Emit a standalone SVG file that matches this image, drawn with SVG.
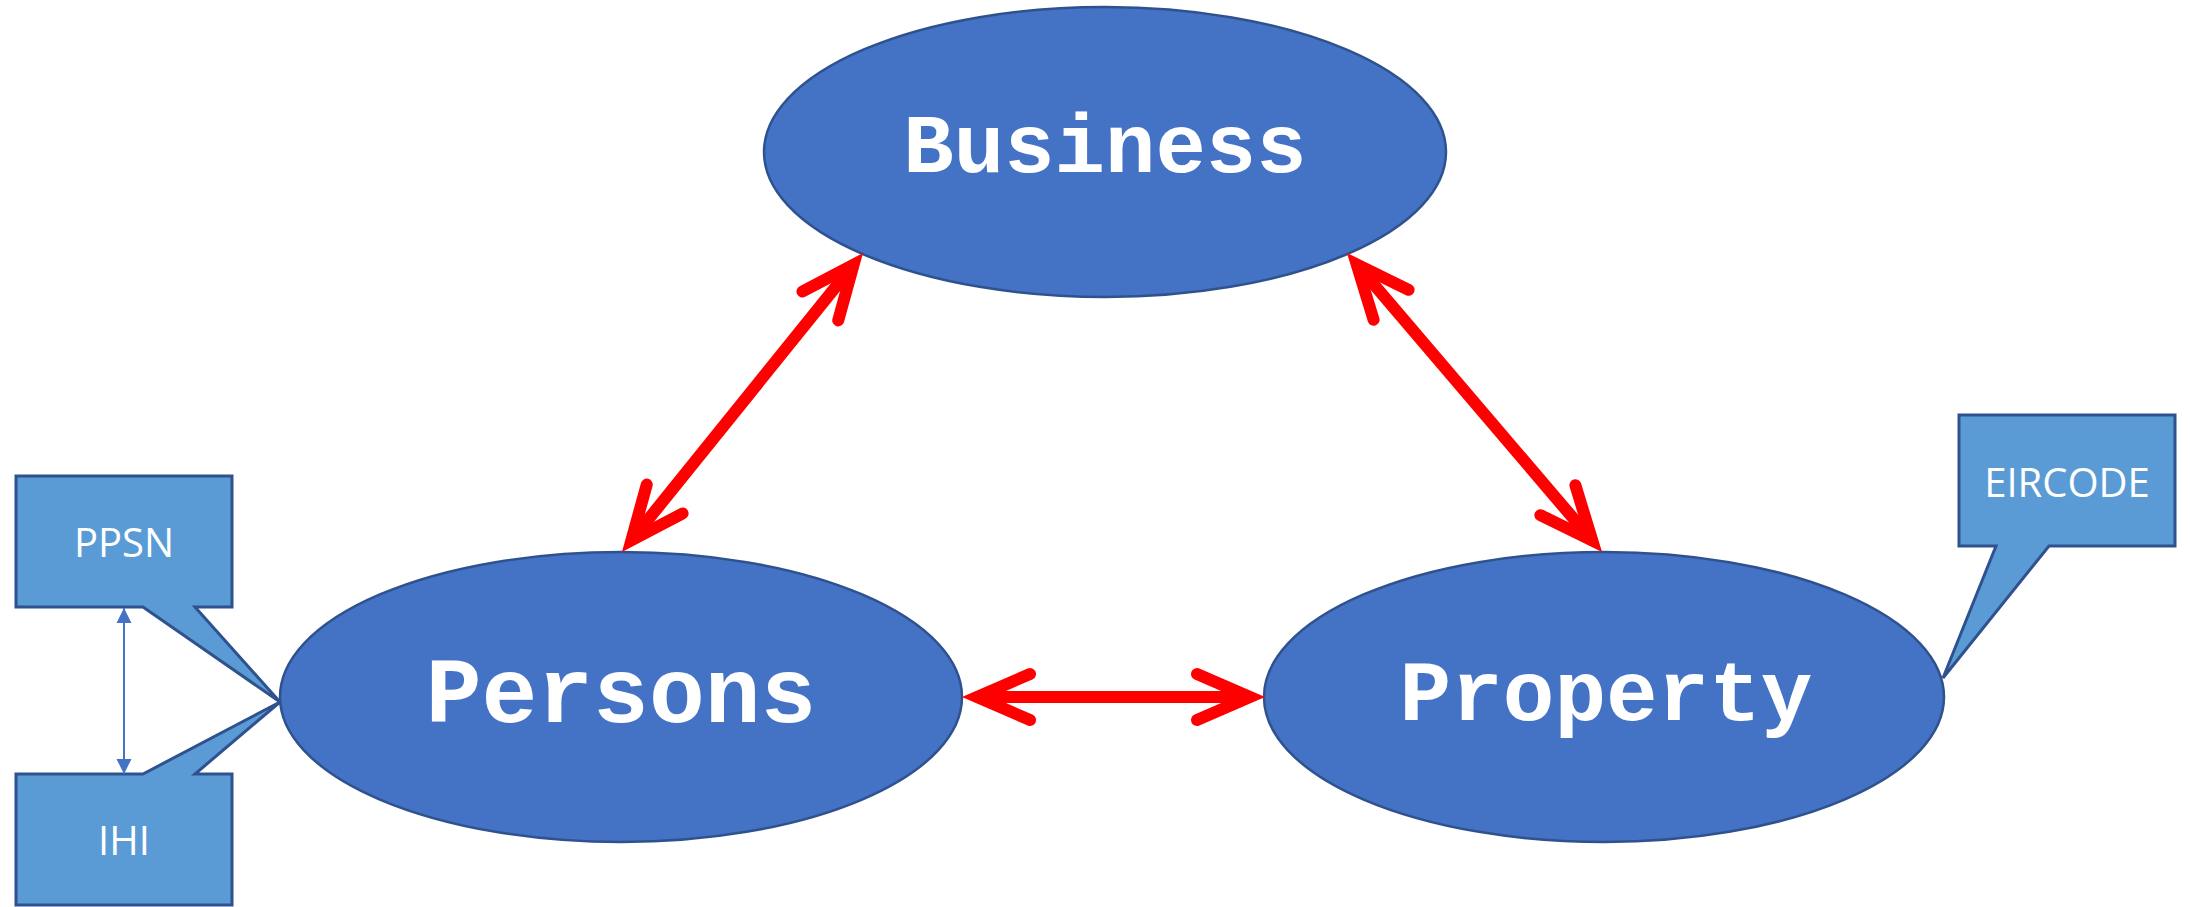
<svg xmlns="http://www.w3.org/2000/svg" width="2190" height="907" viewBox="0 0 2190 907">
<style>
.ell{fill:#4472C4;stroke:#2F528F;stroke-width:2.5}
.call{fill:#5B9BD5;stroke:#2F528F;stroke-width:3;stroke-linejoin:miter}
.big{font-family:"Liberation Mono","Courier New",monospace;font-weight:bold;fill:#FFFFFF;text-anchor:middle}
.small{font-family:"Open Sans","Liberation Sans",sans-serif;font-size:40px;fill:#FFFFFF;text-anchor:middle}
.rel{stroke:#FF0000;stroke-width:12;fill:none;marker-start:url(#chev);marker-end:url(#chev)}
.link{stroke:#4472C4;stroke-width:2;fill:none;marker-start:url(#tri);marker-end:url(#tri)}
</style>
<defs>
<marker id="chev" markerUnits="userSpaceOnUse" viewBox="-80 -45 100 90" markerWidth="100" markerHeight="90" refX="0" refY="0" orient="auto-start-reverse" overflow="visible">
<path d="M-53,-23 L0,0 L-53,23" fill="none" stroke="#FF0000" stroke-width="12" stroke-linecap="round" stroke-linejoin="miter"/>
</marker>
<marker id="tri" markerUnits="userSpaceOnUse" viewBox="-16 -8 16 16" markerWidth="16" markerHeight="16" refX="0" refY="0" orient="auto-start-reverse">
<path d="M-15,-7.5 L0,0 L-15,7.5 Z" fill="#4472C4"/>
</marker>
</defs>
<rect width="2190" height="907" fill="#FFFFFF"/>
<g id="business">
<ellipse class="ell" cx="1105" cy="152" rx="341" ry="145"/>
<text class="big" x="1105" y="172" font-size="84">Business</text>
</g>
<g id="persons">
<ellipse class="ell" cx="621" cy="697" rx="341" ry="145"/>
<text class="big" x="621" y="722" font-size="93">Persons</text>
</g>
<g id="property">
<ellipse class="ell" cx="1604" cy="697" rx="340" ry="145"/>
<text class="big" x="1606" y="720" font-size="86">Property</text>
</g>
<g id="ppsn">
<polygon class="call" points="16,476 232,476 232,607 195,607 280,702 143,607 16,607"/>
<text class="small" x="124" y="557">PPSN</text>
</g>
<g id="ihi">
<polygon class="call" points="16,774 143,774 280,702 195,774 232,774 232,905 16,905"/>
<text class="small" x="124" y="855">IHI</text>
</g>
<g id="eircode">
<polygon class="call" points="1959,415 2175,415 2175,546 2049,546 1943,678 1996,546 1959,546"/>
<text class="small" x="2067" y="497">EIRCODE</text>
</g>
<g id="connectors">
<path class="rel" d="M631.4,540.3 L853.6,264.7"/>
<path class="rel" d="M1356.7,264.4 L1592.3,540.6"/>
<path class="rel" d="M977,697 L1250,697"/>
<path class="link" d="M124,608 L124,774"/>
</g>
</svg>
